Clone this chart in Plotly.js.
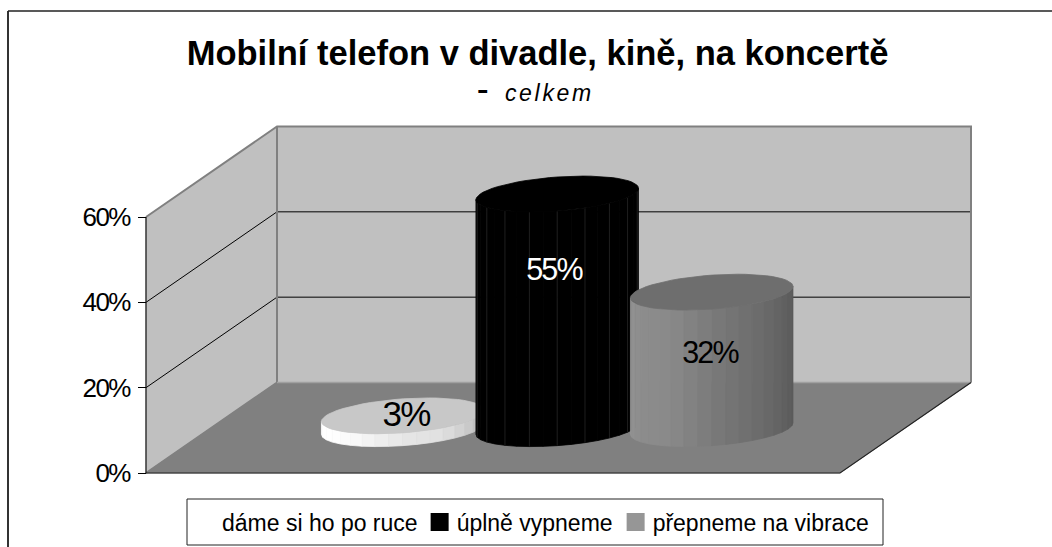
<!DOCTYPE html>
<html><head><meta charset="utf-8">
<script src="https://cdn.plot.ly/plotly-3.0.1.min.js"></script>
<style>html,body{margin:0;padding:0;background:#fff;overflow:hidden}#c{width:1052px;height:547px}
#c .ytick text{letter-spacing:-1.6px}
#c .textpoint text{letter-spacing:-1.8px}
#c .annotation-text{letter-spacing:2.7px}
#c .legend .traces:nth-child(1) .legendtext{transform:translateX(-7px)}
#c .legend .traces:nth-child(2) .legendtext{transform:translateX(-13px)}
#c .legend .traces:nth-child(2) .layers{transform:translateX(-10px)}
#c .legend .traces:nth-child(3) .legendtext{transform:translateX(-18px)}
#c .legend .traces:nth-child(3) .layers{transform:translateX(-15px)}
</style>
</head><body><div id="c"></div>
<script>
// ---- data ----
const chartTitle = "Mobilní telefon v divadle, kině, na koncertě";
const subtitleDash = "-";
const subtitleWord = "<i>celkem</i>";
const seriesNames = ["dáme si ho po ruce", "úplně vypneme", "přepneme na vibrace"];
const seriesValues = [3, 55, 32];
const axisTicks = [0, 20, 40, 60];

// ---- oblique projection: floor width w, depth d (0..1), height v (percent) ----
const W = 1052, H = 547, FONT = '"Liberation Sans", Arial, sans-serif';
const X0 = 146, FLOOR_W = 694, DEPTH_X = 131;
const PX_PER_PCT = 256 / 60, DEPTH_PCT = 90.5 / PX_PER_PCT;
const Y0 = 473;
const TOP = 60;
const px = (w, d) => X0 + w + d * DEPTH_X;
const py = (d, v) => v + d * DEPTH_PCT;
const poly = (pts) => ({x: pts.map(p => px(p[0], p[1])), y: pts.map(p => py(p[1], p[2]))});
const base = {type: 'scatter', hoverinfo: 'skip', showlegend: false};
const traces = [];
function area(pts, fill, lineColor, lineWidth) {
  const q = poly(pts.concat([pts[0]]));
  traces.push({...base, ...q, mode: 'lines', fill: 'toself', fillcolor: fill,
    line: {color: lineColor || fill, width: lineWidth || 0.8}});
}
function line(pts, color, width) {
  traces.push({...base, ...poly(pts), mode: 'lines', line: {color, width}});
}

// walls and floor
area([[0,0,0],[0,1,0],[0,1,TOP],[0,0,TOP]], '#c0c0c0');
area([[0,1,0],[FLOOR_W,1,0],[FLOOR_W,1,TOP],[0,1,TOP]], '#c0c0c0');
area([[0,0,0],[FLOOR_W,0,0],[FLOOR_W,1,0],[0,1,0]], '#808080');
axisTicks.filter(t => t > 0 && t < TOP).forEach(t => {
  line([[0,0,t],[0,1,t],[FLOOR_W,1,t]], '#000000', 1);
});
line([[0,0,TOP],[0,1,TOP],[FLOOR_W,1,TOP],[FLOOR_W,1,0]], '#808080', 2);
line([[0,1,TOP],[0,1,0],[0,0,0]], '#808080', 2);
line([[0,1,0],[FLOOR_W,1,0]], '#a0a0a0', 1.5);
line([[0,0,0],[0,0,TOP]], '#111111', 1.2);
line([[0,0,0],[FLOOR_W,0,0],[FLOOR_W,1,0]], '#222222', 1.2);

// cylinders
const RU = 77, RD = 0.198, D = 0.49, SPACING = 154.5, STEPS = 18;
const sideColours = [
  ['#ffffff','#ffffff','#f6f6f6','#e6e6e6','#e0e0e0','#c4c4c4','#aaaaaa'],
  ['#000000','#000000'],
  ['#969696','#8c8c8c','#8a8a8a','#7a7a7a','#6e6e6e','#626262','#585858']
];
const topColours = ['#c8c8c8', '#000000', '#6e6e6e'];
const hex = (c) => [1,3,5].map(i => parseInt(c.substr(i,2),16));
function shade(stops, f) {
  const p = f * (stops.length - 1), i = Math.min(Math.floor(p), stops.length - 2), r = p - i;
  const a = hex(stops[i]), b = hex(stops[i+1]);
  return 'rgb(' + a.map((v,k) => Math.round(v + (b[k]-v)*r)).join(',') + ')';
}
const phase = Math.atan2(RD * DEPTH_X, RU);
seriesValues.forEach((value, i) => {
  const U = FLOOR_W / 2 + (i - 1) * SPACING;
  const rim = (t, v) => [U + RU * Math.cos(t), D + RD * Math.sin(t), v];
  const seams = {x: [], y: []};
  for (let k = 0; k < STEPS; k++) {
    const a = Math.PI + phase + Math.PI * k / STEPS, b = Math.PI + phase + Math.PI * (k + 1) / STEPS;
    area([rim(a,0), rim(b,0), rim(b,value), rim(a,value)], shade(sideColours[i], (k + 0.5) / STEPS));
    if (i === 1 && k > 0 && k % 2 === 1) {
      const s = poly([rim(a,0), rim(a,value)]);
      seams.x.push(s.x[0], s.x[1], null); seams.y.push(s.y[0], s.y[1], null);
    }
  }
  if (seams.x.length) traces.push({...base, ...seams, mode: 'lines', line: {color: '#333333', width: 0.6}});
  const disc = [];
  for (let k = 0; k < 60; k++) disc.push(rim(2 * Math.PI * k / 60, value));
  area(disc, topColours[i]);
});

// data labels
const labelAnchors = [[406, 417], [554, 272], [710, 355]];
traces.push({...base, mode: 'text',
  x: labelAnchors.map(a => a[0]),
  y: labelAnchors.map(a => (Y0 - a[1]) / PX_PER_PCT),
  text: seriesValues.map(v => v + '%'),
  textposition: 'middle center',
  textfont: {family: FONT, size: [35, 30.5, 30.5], color: ['#000000', '#ffffff', '#000000']}
});

// legend entries
const swatches = ['#ffffff', '#000000', '#969696'];
seriesNames.forEach((name, i) => traces.push({type: 'scatter', mode: 'markers', name,
  x: [null], y: [null], hoverinfo: 'skip',
  marker: {symbol: 'square', size: 16, color: swatches[i], line: {color: swatches[i], width: 2}}}));

const layout = {
  width: W, height: H, margin: {l: 0, r: 0, t: 0, b: 0},
  paper_bgcolor: '#ffffff', plot_bgcolor: 'rgba(0,0,0,0)',
  font: {family: FONT, color: '#000000'},
  title: {text: chartTitle, x: 537.5 / W, xanchor: 'center', y: 1 - 53 / H, yanchor: 'middle', yref: 'container',
    font: {family: FONT, size: 34.5, weight: 700, color: '#000000'}},
  xaxis: {range: [0, W], visible: false, fixedrange: true},
  yaxis: {range: [(Y0 - H) / PX_PER_PCT, Y0 / PX_PER_PCT], anchor: 'free', position: X0 / W,
    tickmode: 'array', tickvals: axisTicks, ticktext: axisTicks.map(t => t + '%'),
    ticks: 'outside', ticklen: 8, tickwidth: 1, tickcolor: '#000000', ticklabelstandoff: 3,
    showgrid: false, zeroline: false, showline: false, fixedrange: true,
    tickfont: {family: FONT, size: 26, color: '#000000'}},
  annotations: [
    {xref: 'paper', yref: 'paper', x: 484 / W, y: 1 - 88 / H, xanchor: 'center', yanchor: 'middle',
      text: subtitleDash, showarrow: false, font: {family: FONT, size: 36, color: '#000000'}},
    {xref: 'paper', yref: 'paper', x: 549 / W, y: 1 - 93 / H, xanchor: 'center', yanchor: 'middle',
      text: subtitleWord, showarrow: false, font: {family: FONT, size: 23, color: '#000000'}}
  ],
  shapes: [
    {type: 'line', xref: 'paper', yref: 'paper', x0: 8 / W, x1: 8 / W, y0: 0, y1: 1 - 11 / H, line: {color: '#333333', width: 2}},
    {type: 'line', xref: 'paper', yref: 'paper', x0: 8 / W, x1: 1, y0: 1 - 11 / H, y1: 1 - 11 / H, line: {color: '#222222', width: 1.5}},
    {type: 'rect', xref: 'paper', yref: 'paper', x0: 187 / W, x1: 883 / W, y0: 1 - 545 / H, y1: 1 - 499 / H, line: {color: '#222222', width: 1}, fillcolor: '#ffffff', layer: 'above'}
  ],
  showlegend: true,
  legend: {orientation: 'h', x: 189 / W, xanchor: 'left', y: 1 - 522 / H, yanchor: 'middle',
    bgcolor: 'rgba(0,0,0,0)', borderwidth: 0, font: {family: FONT, size: 23, color: '#000000'},
    itemsizing: 'trace', itemclick: false, itemdoubleclick: false, traceorder: 'normal'}
};
Plotly.newPlot('c', traces, layout, {displayModeBar: false, staticPlot: true});
</script></body></html>
